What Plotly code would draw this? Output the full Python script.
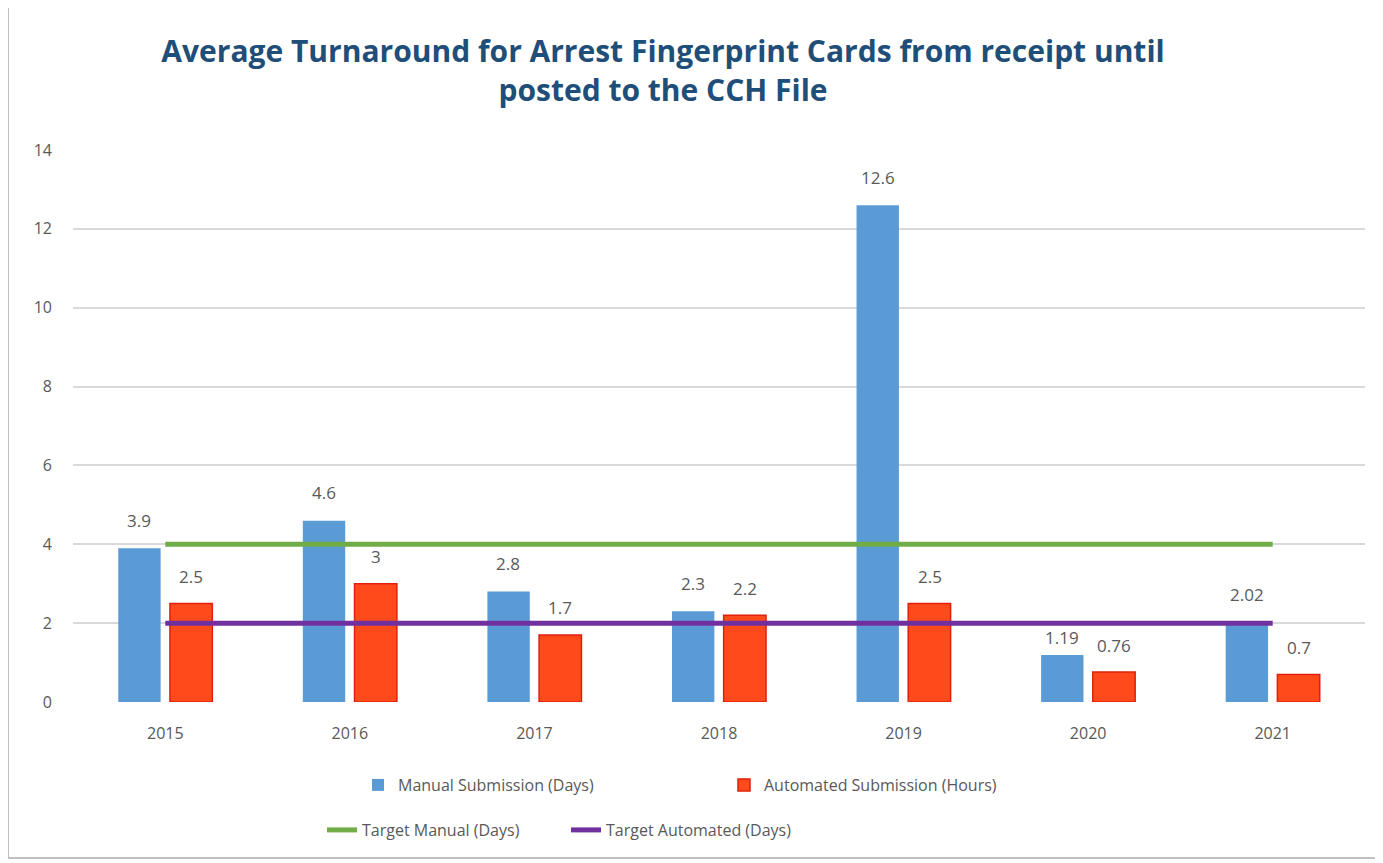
import plotly.graph_objects as go

years = ["2015", "2016", "2017", "2018", "2019", "2020", "2021"]
manual_days = [3.9, 4.6, 2.8, 2.3, 12.6, 1.19, 2.02]
automated_hours = [2.5, 3, 1.7, 2.2, 2.5, 0.76, 0.7]
target_manual = [4, 4, 4, 4, 4, 4, 4]
target_automated = [2, 2, 2, 2, 2, 2, 2]
y_ticks = [0, 2, 4, 6, 8, 10, 12, 14]

W, H = 1383, 863
OFF = 8  # page body margin offset
L, R, T, B = 73 - OFF, 18 + OFF, 150 - OFF, 161 + OFF
pw, ph = W - L - R, H - T - B
# page-pixel helpers (page coords = figure coords + OFF)
px = lambda p: (p - OFF - L) / pw
py = lambda p: (T + ph - (p - OFF)) / ph

fig = go.Figure()
fig.add_trace(go.Bar(x=years, y=manual_days, name="Manual Submission (Days)",
                     marker=dict(color="#5b9bd5", line=dict(width=0)), legend="legend"))
fig.add_trace(go.Bar(x=years, y=automated_hours, name="Automated Submission (Hours)",
                     marker=dict(color="#ff4a1c", line=dict(color="#e0200c", width=1.5)), legend="legend"))
fig.add_trace(go.Scatter(x=years, y=target_manual, name="Target Manual (Days)", mode="lines",
                         line=dict(color="#70ad47", width=5), legend="legend2"))
fig.add_trace(go.Scatter(x=years, y=target_automated, name="Target Automated (Days)", mode="lines",
                         line=dict(color="#7030a0", width=5), legend="legend2"))

label_font = dict(family="Open Sans", size=17, color="#595959")
annotations = []
for i, v in enumerate(manual_days):
    # the 2020 label sits lower in the reference, just under the target line
    shift = 18 if i == 5 else 28
    annotations.append(dict(x=i, y=v, xref="x", yref="y", text=str(v), showarrow=False,
                            xshift=-26, yshift=shift, font=label_font))
for i, v in enumerate(automated_hours):
    annotations.append(dict(x=i, y=v, xref="x", yref="y", text=str(v), showarrow=False,
                            xshift=26, yshift=27, font=label_font))

fig.update_layout(
    width=W, height=H,
    margin=dict(l=L, r=R, t=T, b=B),
    paper_bgcolor="white", plot_bgcolor="white",
    barmode="group", bargap=0.44, bargroupgap=0.18,
    title=dict(text="Average Turnaround for Arrest Fingerprint Cards from receipt until<br>posted to the CCH File",
               x=(663 - OFF) / W, xanchor="center", y=1 - 54 / H, yanchor="middle",
               font=dict(family="Open Sans", size=30, color="#1f4e79", weight="bold")),
    font=dict(family="Open Sans", color="#595959"),
    xaxis=dict(type="category", range=[-0.5, 6.5], showgrid=False, zeroline=False, showline=False, ticks="",
               tickfont=dict(family="Open Sans", size=16, color="#595959"), ticklabelstandoff=20),
    yaxis=dict(range=[0, 14], tickvals=y_ticks, showgrid=True, gridcolor="#d9d9d9", gridwidth=1.5,
               zeroline=False, showline=False, ticks="",
               tickfont=dict(family="Open Sans", size=16, color="#595959"), ticklabelstandoff=20),
    legend=dict(orientation="h", x=px(358), xanchor="left", y=py(785), yanchor="middle",
                font=dict(family="Open Sans", size=16, color="#595959"), entrywidth=321, entrywidthmode="pixels",
                bgcolor="rgba(0,0,0,0)"),
    legend2=dict(orientation="h", x=px(322), xanchor="left", y=py(830), yanchor="middle",
                 font=dict(family="Open Sans", size=16, color="#595959"), entrywidth=199, entrywidthmode="pixels",
                 bgcolor="rgba(0,0,0,0)"),
    annotations=annotations,
    shapes=[dict(type="rect", xref="paper", yref="paper",
                 x0=px(8), x1=px(1379), y0=py(858), y1=py(5),
                 line=dict(color="#bfbfbf", width=2), fillcolor="rgba(0,0,0,0)", layer="below")],
)

fig.write_html("out.html")
